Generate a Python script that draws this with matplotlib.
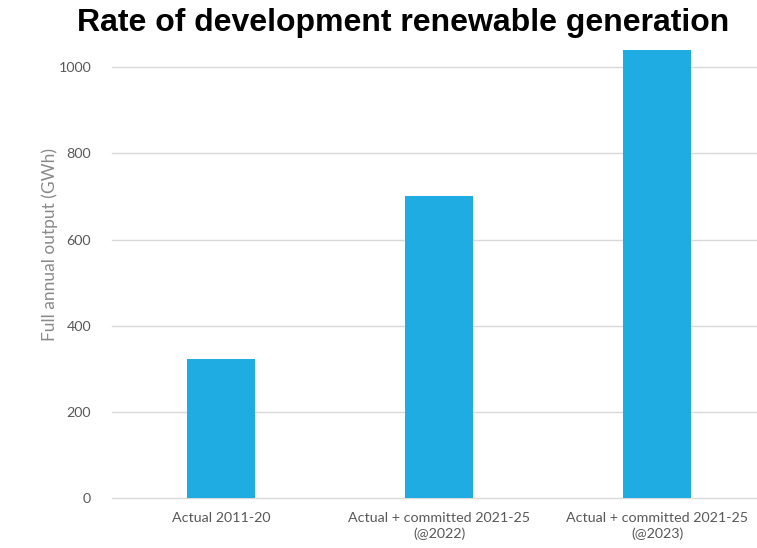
import matplotlib.pyplot as plt

categories = ['Actual 2011-20',
              'Actual + committed 2021-25\n(@2022)',
              'Actual + committed 2021-25\n(@2023)']
output_gwh = [322, 702, 1040]
yticks = [0, 200, 400, 600, 800, 1000]

fig = plt.figure(figsize=(7.57, 5.48), dpi=100)
ax = fig.add_axes([112 / 757, 50 / 548, (757 - 112) / 757, 448 / 548])

x = range(len(categories))
ax.bar(x, output_gwh, width=0.31, color='#1eace3', zorder=3)

ax.set_xlim(-0.5, 2.5 - 9 / 218)
ax.set_ylim(0, 1040)
ax.set_yticks(yticks)
ax.set_xticks(list(x))
ax.set_xticklabels(categories, fontsize=10.3, color='#595959', family='Lato', linespacing=1.35)
ax.set_yticklabels([str(v) for v in yticks], fontsize=10.3, color='#595959', family='Lato')
ax.tick_params(axis='y', length=0, pad=15)
ax.tick_params(axis='x', length=0, pad=10)
ax.grid(axis='y', color='#d9d9d9', linewidth=1, zorder=0)
for gl in ax.get_ygridlines():
    gl.set_clip_on(False)
for s in ax.spines.values():
    s.set_visible(False)

ax.set_ylabel('Full annual output (GWh)', fontsize=12.5, color='#8a8a8a', family='Lato')
ax.yaxis.set_label_coords(-0.084, 0.565)

fig.text(0.533, 1 - 23 / 548, 'Rate of development renewable generation',
         ha='center', va='center', fontsize=23, fontweight='bold', family='Liberation Sans')

fig.savefig('out.png', dpi=100)
